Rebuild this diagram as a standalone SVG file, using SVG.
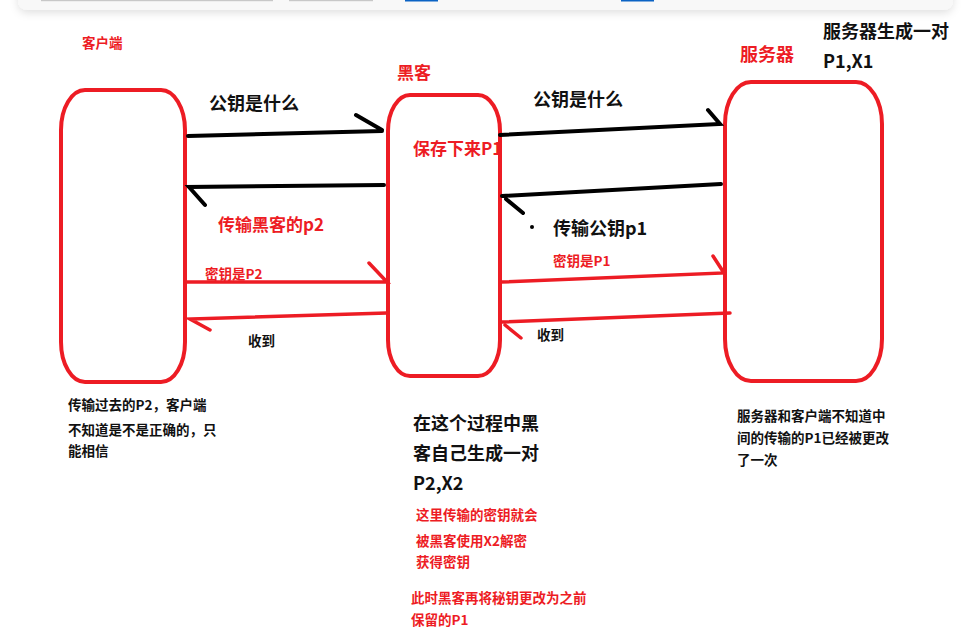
<svg xmlns="http://www.w3.org/2000/svg" width="979" height="640" viewBox="0 0 979 640">
<defs>
<filter id="sh" x="-5%" y="-50%" width="110%" height="250%">
<feDropShadow dx="0" dy="3" stdDeviation="4" flood-color="#000" flood-opacity="0.12"/>
</filter>
<style>
.node{fill:none;stroke:#ed1c24;stroke-width:4}
.bk{fill:none;stroke:#000;stroke-width:4;stroke-linecap:round}
.rd{fill:none;stroke:#ed1c24;stroke-width:3.5;stroke-linecap:round}
text{font-family:"Noto Sans CJK SC","Noto Sans",sans-serif;font-weight:bold}
.t18{font-size:18px;fill:#111}
.r18{font-size:17px;fill:#ed1c24}
.t13{font-size:13.5px;fill:#111}
.r13{font-size:13.5px;fill:#ed1c24}
</style>
</defs>
<rect width="979" height="640" fill="#fff"/>
<g id="toolbar">
<rect x="18" y="-20" width="935" height="30" rx="9" fill="#f8f8f8" filter="url(#sh)"/>
<rect x="41" y="0" width="232" height="1.2" fill="#c8c8c8"/>
<rect x="289" y="0" width="84" height="1.2" fill="#c8c8c8"/>
<rect x="405" y="0" width="33" height="1.5" fill="#0b63c4"/>
<rect x="621" y="0" width="33" height="1.5" fill="#0b63c4"/>
</g>
<g id="client">
<rect class="node" x="61" y="90" width="124" height="292" rx="24" ry="40"/>
<text class="r13" x="82" y="48" font-size="13">客户端</text>
</g>
<g id="hacker">
<rect class="node" x="388" y="95" width="112" height="281" rx="22" ry="36"/>
<text class="r18" x="397" y="79">黑客</text>
<text class="r18" x="413" y="155">保存下来P1</text>
</g>
<g id="server">
<rect class="node" x="725" y="82" width="157" height="299" rx="26" ry="42"/>
<text style="font-size:18px;fill:#ed1c24" x="740" y="61">服务器</text>
<text class="t18" x="823" y="38">服务器生成一对</text>
<text class="t18" x="823" y="68">P1,X1</text>
</g>
<g id="connectors">
<path class="bk" d="M188 136 L382 131 M356 115 L382 130"/>
<path class="bk" d="M384 185 L189 187 L205 205"/>
<path class="bk" d="M500 135 L720 124 L708 110"/>
<path class="bk" d="M721 184 L502 196 M506 199 L523 213"/>
<circle cx="532" cy="227" r="2" fill="#000"/>
<path class="rd" d="M186 282 L387 282 L369 263"/>
<path class="rd" d="M387 313 L190 319 L210 330"/>
<path class="rd" d="M501 282 L724 273 L713 256"/>
<path class="rd" d="M730 313 L502 322 M505 325 L521 338"/>
</g>
<g id="labels">
<text class="t18" x="209" y="110" font-size="17">公钥是什么</text>
<text class="t18" x="533" y="106" font-size="17">公钥是什么</text>
<text class="r18" x="218" y="231">传输黑客的p2</text>
<text class="t18" x="553" y="235" font-size="17">传输公钥p1</text>
<text class="r13" x="205" y="279">密钥是P2</text>
<text class="r13" x="553" y="266">密钥是P1</text>
<text class="t13" x="248" y="346">收到</text>
<text class="t13" x="537" y="340">收到</text>
</g>
<g id="notes">
<text class="t13" x="68" y="410">传输过去的P2，客户端</text>
<text class="t13" x="68" y="435">不知道是不是正确的，只</text>
<text class="t13" x="68" y="456">能相信</text>
<text class="t18" x="413" y="430">在这个过程中黑</text>
<text class="t18" x="413" y="460">客自己生成一对</text>
<text class="t18" x="413" y="490">P2,X2</text>
<text class="r13" x="416" y="520">这里传输的密钥就会</text>
<text class="r13" x="416" y="546">被黑客使用X2解密</text>
<text class="r13" x="416" y="567">获得密钥</text>
<text class="r13" x="411" y="603">此时黑客再将秘钥更改为之前</text>
<text class="r13" x="411" y="625">保留的P1</text>
<text class="t13" x="737" y="421">服务器和客户端不知道中</text>
<text class="t13" x="737" y="443">间的传输的P1已经被更改</text>
<text class="t13" x="737" y="465">了一次</text>
</g>
</svg>
